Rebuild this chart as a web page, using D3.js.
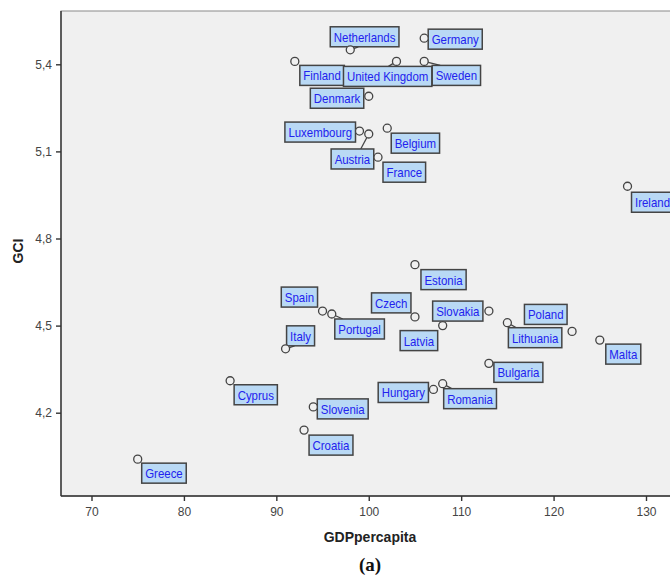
<!DOCTYPE html>
<html>
<head>
<meta charset="utf-8">
<script src="https://cdn.jsdelivr.net/npm/d3@7/dist/d3.min.js"></script>
<style>
  html, body { margin: 0; padding: 0; background: #ffffff; }
  svg { display: block; }
</style>
</head>
<body>
<svg id="chart" width="670" height="576"></svg>
<script>
// ---- data ----
const countries = ["Netherlands","Germany","Finland","United Kingdom","Sweden","Denmark",
  "Luxembourg","Austria","Belgium","France","Ireland","Estonia","Spain","Portugal","Czech",
  "Slovakia","Latvia","Lithuania","Poland","Italy","Malta","Bulgaria","Cyprus","Hungary",
  "Romania","Slovenia","Croatia","Greece"];
const gdpPerCapita = [98,106,92,103,106,100,99,100,102,101,128,105,95,96,105,113,108,115,122,91,125,113,85,107,108,94,93,75];
const gci = [5.45,5.49,5.41,5.41,5.41,5.29,5.17,5.16,5.18,5.08,4.98,4.71,4.55,4.54,4.53,4.55,4.50,4.51,4.48,4.42,4.45,4.37,4.31,4.28,4.30,4.22,4.14,4.04];
const xTicks = [70,80,90,100,110,120,130];
const yTicks = [4.2,4.5,4.8,5.1,5.4];
const xTitle = "GDPpercapita";
const yTitle = "GCI";
const caption = "(a)";

// ---- label layout (pixel offsets of the label box from its point) ----
// [dx, dy, anchor('s' = box left at dx, 'e' = box right at dx), leader]
const labelLayout = [
  [-20,-23,'s',1],[4,-9,'s',0],[5,4,'s',0],[-53,5,'s',1],[8,4,'s',1],[-5,-8,'e',0],
  [-4,-9,'e',0],[5,15,'e',1],[4,5,'s',0],[5,5,'s',0],[4,6,'s',0],[6,5,'s',0],
  [-5,-24,'e',0],[3,5,'s',1],[-4,-24,'e',0],[-6,-10,'e',0],[-5,5,'e',0],[1,5,'s',1],
  [-5,-27,'e',0],[1,-23,'s',1],[6,4,'s',0],[5,-1,'s',0],[4,4,'s',0],[-5,-7,'e',0],
  [1,5,'s',1],[4,-8,'s',0],[5,5,'s',0],[4,4,'s',0]
];

// ---- geometry ----
const plot = { left: 61, top: 11, right: 720, bottom: 496 };
const x = d3.scaleLinear().domain([70,130]).range([91.5,646]);
const y = d3.scaleLinear().domain([4.2,5.4]).range([412.7,64.3]);

const svg = d3.select("#chart");

// plot background + frame
svg.append("rect")
  .attr("x", plot.left).attr("y", plot.top)
  .attr("width", plot.right - plot.left).attr("height", plot.bottom - plot.top)
  .attr("fill", "#f0f0f0").attr("stroke", "#8a8a8a").attr("stroke-width", 1);

// axes
const xAxis = d3.axisBottom(x).tickValues(xTicks).tickSize(5).tickPadding(6)
  .tickFormat(d3.format("d"));
const gx = svg.append("g").attr("transform", `translate(0,${plot.bottom})`).call(xAxis);
gx.select(".domain").attr("d", `M${plot.left},0H${plot.right}`).attr("stroke", "#333").attr("stroke-width", 1.4);

const yAxis = d3.axisLeft(y).tickValues(yTicks).tickSize(5).tickPadding(4)
  .tickFormat(d => d.toFixed(1).replace(".", ","));
const gy = svg.append("g").attr("transform", `translate(${plot.left},0)`).call(yAxis);
gy.select(".domain").attr("d", `M0,${plot.top}V${plot.bottom}`).attr("stroke", "#333").attr("stroke-width", 1.4);

[gx, gy].forEach(g => {
  g.selectAll(".tick line").attr("stroke", "#333").attr("stroke-width", 1.4);
  g.selectAll(".tick text").attr("fill", "#444")
    .style("font-family", "'Liberation Sans', Arial, sans-serif").style("font-size", "12px");
});

// axis titles
svg.append("text").attr("x", 370).attr("y", 542).attr("text-anchor", "middle")
  .style("font-family", "'Liberation Sans', Arial, sans-serif").style("font-size", "14px")
  .style("font-weight", "bold").attr("fill", "#222").text(xTitle);
svg.append("text").attr("transform", "translate(23,251) rotate(-90)").attr("text-anchor", "middle")
  .style("font-family", "'Liberation Sans', Arial, sans-serif").style("font-size", "14px")
  .style("font-weight", "bold").attr("fill", "#222").text(yTitle);
svg.append("text").attr("x", 370).attr("y", 571).attr("text-anchor", "middle")
  .style("font-family", "'Liberation Serif', 'Times New Roman', serif").style("font-size", "19px")
  .style("font-weight", "bold").attr("fill", "#111").text(caption);

// points & labels
const data = countries.map((c, i) => ({ name: c, gx: gdpPerCapita[i], gy: gci[i], lay: labelLayout[i] }));
const leaderG = svg.append("g");
const labelG = svg.append("g");
const pointG = svg.append("g");

const boxH = 20;
data.forEach(d => {
  const cx = x(d.gx), cy = y(d.gy);
  const g = labelG.append("g");
  const t = g.append("text")
    .style("font-family", "'Liberation Sans', Arial, sans-serif").style("font-size", "13px")
    .attr("fill", "#2222ee").text(d.name);
  const tw = t.node().getComputedTextLength() * 0.88;
  t.attr("textLength", tw).attr("lengthAdjust", "spacingAndGlyphs");
  const w = tw + 7;
  const [dx, dy, anc, lead] = d.lay;
  const bx = anc === 's' ? cx + dx : cx + dx - w;
  const by = cy + dy;
  g.insert("rect", "text").attr("x", bx).attr("y", by).attr("width", w).attr("height", boxH)
    .attr("fill", "#b9d9f5").attr("stroke", "#444").attr("stroke-width", 1.5);
  t.attr("x", bx + 3.5).attr("y", by + 15);
  if (lead) {
    // nearest point on box, then slide along edge toward the box centre
    let px = Math.max(bx, Math.min(cx, bx + w));
    let py = Math.max(by, Math.min(cy, by + boxH));
    const mx = bx + w / 2;
    if (py === by || py === by + boxH) {
      px = px + Math.sign(mx - px) * Math.min(8, Math.abs(mx - px));
    }
    leaderG.append("line").attr("x1", cx).attr("y1", cy).attr("x2", px).attr("y2", py)
      .attr("stroke", "#444").attr("stroke-width", 1.3);
  }
  pointG.append("circle").attr("cx", cx).attr("cy", cy).attr("r", 4)
    .attr("fill", "#f0f0f0").attr("stroke", "#444").attr("stroke-width", 1.3);
});
</script>
</body>
</html>
